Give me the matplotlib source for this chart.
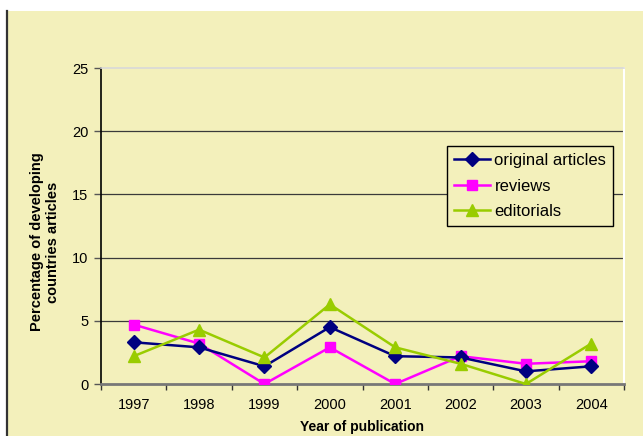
import matplotlib
matplotlib.use("Agg")
import matplotlib.pyplot as plt
from matplotlib.patches import Rectangle
from matplotlib.lines import Line2D

plt.rcParams['font.family'] = ['Liberation Sans', 'DejaVu Sans']

years = ['1997', '1998', '1999', '2000', '2001', '2002', '2003', '2004']
original_articles = [3.3, 2.9, 1.4, 4.5, 2.2, 2.1, 1.0, 1.4]
reviews = [4.7, 3.2, 0.0, 2.9, 0.0, 2.2, 1.6, 1.8]
editorials = [2.2, 4.3, 2.1, 6.3, 2.9, 1.6, 0.0, 3.2]

bg = '#F3F0BB'

fig = plt.figure(figsize=(6.43, 4.36), dpi=100)
fig.patch.set_facecolor('white')
# yellow chart area below a thin white band, dark border on the left
fig.patches.append(Rectangle((6 / 643, 0), 1, (436 - 11) / 436, transform=fig.transFigure,
                             facecolor=bg, edgecolor='none', zorder=-10))
fig.lines.append(Line2D([6.5 / 643, 6.5 / 643], [0, (436 - 11) / 436], transform=fig.transFigure,
                        color='#333333', linewidth=1.6, zorder=-9))

ax = fig.add_axes([101 / 643, (436 - 384) / 436, 523 / 643, 316 / 436])
ax.set_facecolor(bg)

x = list(range(len(years)))
ax.plot(x, original_articles, color='#000080', marker='D', markersize=7, linewidth=1.8,
        label='original articles', zorder=4)
ax.plot(x, reviews, color='#FF00FF', marker='s', markersize=7, linewidth=1.8,
        label='reviews', zorder=3)
ax.plot(x, editorials, color='#99CC00', marker='^', markersize=9, linewidth=1.8,
        label='editorials', zorder=5)

ax.set_xlim(-0.5, len(years) - 0.5)
ax.set_ylim(0, 25)
ax.set_yticks([0, 5, 10, 15, 20, 25])
ax.set_xticks(x)
ax.set_xticklabels(years)
ax.set_xticks([i + 0.5 for i in range(-1, len(years))], minor=True)
ax.tick_params(axis='x', which='major', length=0, labelsize=10.5, pad=10)
ax.tick_params(axis='x', which='minor', length=4, width=1, color='#333333', direction='out')
ax.tick_params(axis='y', length=5, width=1, color='#555555', labelsize=10.5, pad=4)

for v in [5, 10, 15, 20]:
    ax.axhline(v, color='#3a3a3a', linewidth=0.9, zorder=1)

ax.spines['left'].set_color('black')
ax.spines['left'].set_linewidth(1.2)
ax.spines['bottom'].set_color('#777777')
ax.spines['bottom'].set_linewidth(2)
ax.spines['top'].set_color('#D8D8D8')
ax.spines['top'].set_linewidth(1.2)
ax.spines['right'].set_color('white')
ax.spines['right'].set_linewidth(1.5)

leg = ax.legend(loc='upper left', bbox_to_anchor=(346 / 523, (384 - 146) / 316), fontsize=12,
                frameon=True, fancybox=False, facecolor=bg, edgecolor='black',
                framealpha=1, handlelength=2.15, handletextpad=0.3, borderpad=0.4,
                labelspacing=0.65, borderaxespad=0)
leg.get_frame().set_linewidth(1)
leg.set_zorder(10)

fig.text(45 / 643, (436 - 242) / 436, 'Percentage of developing\ncountries articles',
         rotation=90, ha='center', va='center', fontsize=10.5, fontweight='bold',
         linespacing=1.25)
fig.text(362 / 643, 2 / 436, 'Year of publication', ha='center', va='bottom',
         fontsize=10, fontweight='bold')

fig.savefig('out.png', dpi=100, facecolor=fig.get_facecolor())
